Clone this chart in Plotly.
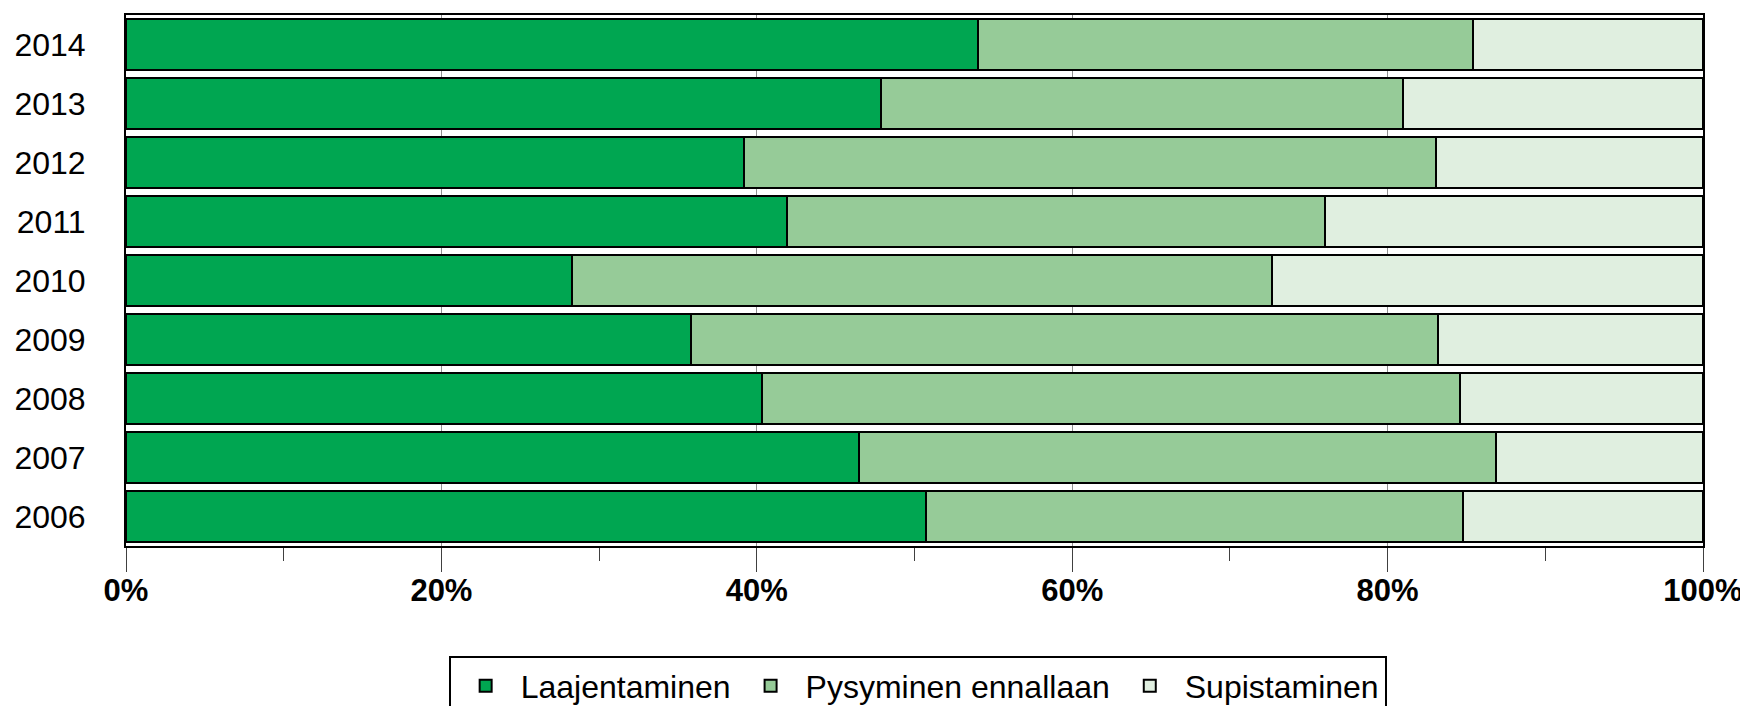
import plotly.graph_objects as go

years = ["2006", "2007", "2008", "2009", "2010", "2011", "2012", "2013", "2014"]
laajentaminen = [50.7, 46.5, 40.3, 35.8, 28.3, 41.9, 39.2, 47.9, 54.0]
pysyminen = [34.1, 40.4, 44.3, 47.4, 44.4, 34.1, 43.9, 33.1, 31.4]
supistaminen = [15.2, 13.1, 15.4, 16.8, 27.3, 24.0, 16.9, 19.0, 14.6]

series = [
    ("Laajentaminen", laajentaminen, "#00A651"),
    ("Pysyminen ennallaan", pysyminen, "#96CB98"),
    ("Supistaminen", supistaminen, "#E0EFE0"),
]
tick_vals = [0, 20, 40, 60, 80, 100]
tick_text = ["0%", "20%", "40%", "60%", "80%", "100%"]

fig = go.Figure()
for name, vals, color in series:
    fig.add_trace(go.Bar(
        y=years, x=vals, name=name, orientation="h",
        marker=dict(color=color, line=dict(color="black", width=2)),
    ))

fig.update_layout(
    barmode="stack",
    bargap=0.14,
    width=1740, height=698,
    margin=dict(l=118, r=45, t=7, b=160, autoexpand=False),
    paper_bgcolor="white", plot_bgcolor="white",
    font=dict(family="Liberation Sans, Arial", color="black"),
    legend=dict(
        orientation="h", x=0.502, xanchor="center", y=-0.208, yanchor="top",
        bordercolor="black", borderwidth=2, font=dict(size=32),
        traceorder="normal", itemwidth=60,
    ),
    showlegend=True,
)
fig.update_xaxes(
    range=[0, 100], tickvals=tick_vals, ticktext=tick_text,
    tickfont=dict(size=31, family="Liberation Sans, Arial", weight="bold"),
    showgrid=True, gridcolor="#909090", gridwidth=1,
    showline=True, linecolor="black", linewidth=2, mirror=True,
    ticks="outside", ticklen=24, tickcolor="#404040", tickwidth=1,
    ticklabelstandoff=-8,
    minor=dict(dtick=10, ticks="outside", ticklen=13, tickcolor="#404040", tickwidth=1, showgrid=False),
    zeroline=False, fixedrange=True,
)
fig.update_yaxes(
    tickfont=dict(size=32), showline=True, linecolor="black", linewidth=2, mirror=True,
    ticks="", ticklabelstandoff=32, showgrid=False, type="category",
)
fig.write_html("out.html")
